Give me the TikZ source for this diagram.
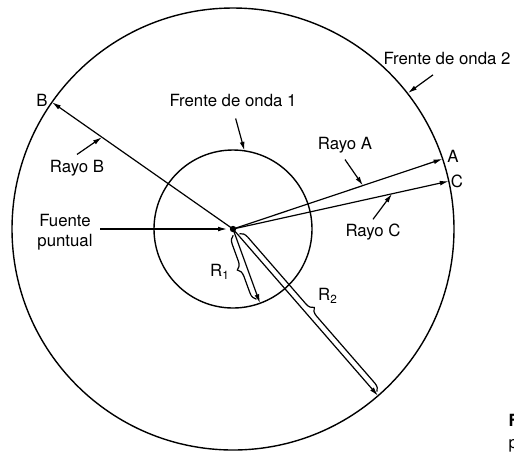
\documentclass[tikz,border=0pt]{standalone}
\usepackage{fontspec}
\setmainfont{TeX Gyre Heros}
\usetikzlibrary{arrows.meta,calc,decorations.pathreplacing}

\begin{document}
\begin{tikzpicture}[x=0.5pt,y=-0.5pt,
line width=0.6pt,
every node/.style={inner sep=1pt,font=\fontsize{8.4}{10}\selectfont},
ptr/.style={-{Latex[length=4.5pt,width=2.4pt]}},
front/.style={line width=0.7pt},
brc/.style={decorate,decoration={brace,amplitude=4pt}}
]
\useasboundingbox (0,0) rectangle (514,457);

% wave fronts and source
\coordinate (src) at (233,229);
\draw[front] (src) circle[radius=110.5pt];
\draw[front] (src) circle[radius=39.5pt];
\fill (src) circle[radius=1.6pt];

% ray ends on the outer front
\coordinate (A) at (442.6,158.9);
\coordinate (B) at (52,102.2);
\coordinate (C) at (448.8,181.2);
\coordinate (E2) at (378,395.8);
\coordinate (E1) at (260,303.2);

% points hit by the label arrows
\coordinate (pA) at ($(src)!0.62!(A)$);
\coordinate (pB) at ($(src)!0.724!(B)$);
\coordinate (pC) at ($(src)!0.737!(C)$);
\coordinate (p1) at (244.5,150.8);
\coordinate (p2) at (408,93);

% brace ends
\coordinate (b1s) at (256.5,299.2);
\coordinate (b1e) at (233.2,235.3);
\coordinate (b2s) at (239.5,233.7);
\coordinate (b2e) at (377,391.7);

\node (lA) at (453,156) {A};
\node (lB) at (42,100) {B};
\node (lC) at (457,181) {C};
\node (f1) at (233,100) {Frente de onda 1};
\node (f2) at (447,58) {Frente de onda 2};
\node (rA) at (345,145) {Rayo A};
\node (rB) at (77,168) {Rayo B};
\node (rC) at (373,232) {Rayo C};
\node[align=center] (fuente) at (65,232) {Fuente\\puntual};
\node (r1) at (220,272) {R\textsubscript{1}};
\node (r2) at (328,296) {R\textsubscript{2}};
\node[anchor=west,font=\fontsize{8.4}{10}\selectfont\bfseries] (capF) at (506,420) {F};
\node[anchor=west] (capP) at (506,446) {p};

% rays
\draw[ptr] (src) -- (A);
\draw[ptr] (src) -- (B);
\draw[ptr] (src) -- (C);
\draw[ptr] (src) -- (E1);
\draw[ptr] (src) -- (E2);

% label arrows
\draw[ptr] ([yshift=-2pt]rA.south) -- (pA);
\draw[ptr] ([yshift=1.5pt]rB.north) -- (pB);
\draw[ptr] ([yshift=1pt]rC.north) -- (pC);
\draw[ptr,shorten <=5pt] (f1.south) -- (p1);
\draw[ptr] ([xshift=-7pt,yshift=-4pt]f2.south) -- (p2);
\draw[ptr,shorten <=2.5pt,shorten >=3pt] (fuente.east |- src) -- (src);

% braces
\draw[brc] (b1s) -- (b1e);
\draw[brc] (b2s) -- (b2e);
\end{tikzpicture}
\end{document}
